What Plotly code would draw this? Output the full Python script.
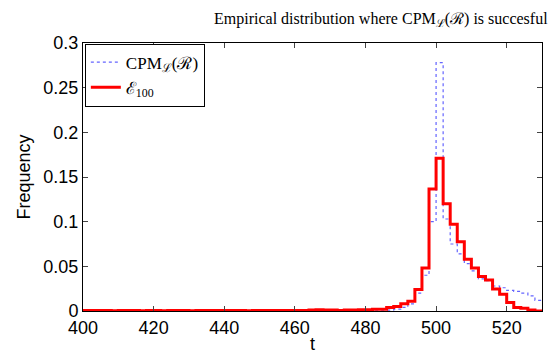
import plotly.graph_objects as go

# bin edges (width 2) from 400 to 530
bin_edges = list(range(400, 531, 2))

# E_100 (red) frequencies per bin
red_vals = [
    0.0005, 0.0005, 0.0005, 0.0005, 0.0003, 0.0005, 0.0005, 0.0005, 0.0003, 0.0005,
    0.0005, 0.0003, 0.0005, 0.0005, 0.0005, 0.0003, 0.0005, 0.0005, 0.0005, 0.0005,
    0.0005, 0.0005, 0.0005, 0.0003, 0.0005, 0.0005, 0.0005, 0.0005, 0.0005, 0.0005,
    0.0005, 0.0005, 0.001, 0.0015, 0.001, 0.001, 0.0005, 0.001, 0.001, 0.0015,
    0.0015, 0.002, 0.002,
    0.004, 0.005, 0.008, 0.011, 0.024, 0.048, 0.1365, 0.171, 0.120, 0.097,
    0.0775, 0.058, 0.048, 0.0387, 0.0346, 0.0245, 0.0188, 0.0094, 0.004, 0.003,
    0.001, 0.0,
]

# CPM_L(R) (blue dotted) frequencies per bin
blue_vals = [
    0.001, 0.0015, 0.001, 0.0005, 0.0005, 0.0005, 0.0005, 0.0005, 0.0005, 0.0005,
    0.0005, 0.0005, 0.0005, 0.0005, 0.0005, 0.0005, 0.0005, 0.0005, 0.0005, 0.0005,
    0.0005, 0.0005, 0.0005, 0.0005, 0.0005, 0.0005, 0.0005, 0.0005, 0.0005, 0.0005,
    0.0005, 0.0005, 0.0005, 0.0005, 0.0005, 0.0005, 0.0005, 0.0005, 0.001, 0.001,
    0.001, 0.001, 0.001,
    0.001, 0.002, 0.004, 0.008, 0.02, 0.04, 0.10, 0.278, 0.103, 0.075,
    0.064, 0.053, 0.045, 0.036, 0.034, 0.028, 0.026, 0.023, 0.022, 0.02,
    0.017, 0.012,
]

x_ticks = [400, 420, 440, 460, 480, 500, 520]
y_ticks = [0, 0.05, 0.1, 0.15, 0.2, 0.25, 0.3]
y_tick_labels = ["0", "0.05", "0.1", "0.15", "0.2", "0.25", "0.3"]

fig = go.Figure()
fig.add_trace(go.Scatter(
    x=bin_edges, y=blue_vals + [blue_vals[-1]],
    mode="lines", line=dict(shape="hv", color="#6464ff", width=1.2, dash="dot"),
    name="CPM<sub>ℒ</sub>(ℛ)",
))
fig.add_trace(go.Scatter(
    x=bin_edges, y=red_vals + [red_vals[-1]],
    mode="lines", line=dict(shape="hv", color="#ff0000", width=3),
    name="ℰ<sub>100</sub>",
))

axis_font = dict(family="Liberation Sans, Arial", size=18, color="black")
fig.update_layout(
    width=552, height=355,
    margin=dict(l=83, r=10, t=43, b=44),
    paper_bgcolor="white", plot_bgcolor="white",
    showlegend=True,
    legend=dict(
        x=0.004, y=0.998, xanchor="left", yanchor="top",
        bgcolor="white", bordercolor="black", borderwidth=1,
        font=dict(family="Liberation Serif, serif", size=17, color="black"),
        tracegroupgap=0, itemwidth=30,
    ),
    annotations=[dict(
        text="Empirical distribution where CPM<sub>ℒ</sub>(ℛ) is succesful",
        x=1.0, y=1.0, xref="paper", yref="paper",
        xanchor="right", yanchor="bottom", yshift=12, xshift=8, showarrow=False,
        font=dict(family="Liberation Serif, serif", size=16, color="black"),
    )],
)
fig.update_xaxes(
    range=[400, 530], tickvals=x_ticks, ticks="inside", ticklen=5,
    showline=True, linecolor="black", linewidth=1, mirror="ticks",
    showgrid=False, zeroline=False, tickfont=axis_font, automargin=False,
    title=dict(text="t", font=axis_font, standoff=0),
)
fig.update_yaxes(
    range=[0, 0.3], tickvals=y_ticks, ticktext=y_tick_labels, ticks="inside", ticklen=5,
    showline=True, linecolor="black", linewidth=1, mirror="ticks",
    showgrid=False, zeroline=False, tickfont=axis_font, automargin=False,
    title=dict(text="Frequency", font=axis_font, standoff=8),
)

fig.write_html(
    "out.html",
    config={"displayModeBar": False},
    post_script="document.body.style.margin='0';document.body.style.overflow='hidden';",
)
